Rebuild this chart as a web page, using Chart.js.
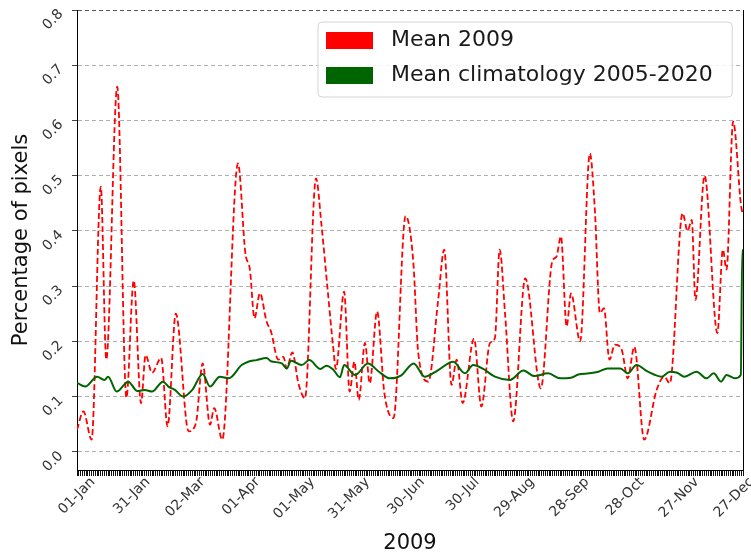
<!DOCTYPE html>
<html><head><meta charset="utf-8">
<script src="https://cdn.jsdelivr.net/npm/chart.js@4.4.0/dist/chart.umd.min.js"></script>
<style>html,body{margin:0;padding:0;background:#fff}#c{display:block}</style>
</head><body>
<canvas id="c" width="751" height="556"></canvas>
<script>
// ---- data ----
const seriesNames = ['Mean 2009', 'Mean climatology 2005-2020'];
const xTickDays = [0,30,60,90,120,150,180,210,240,270,300,330,360];
const xTickLabels = ['01-Jan','31-Jan','02-Mar','01-Apr','01-May','31-May','30-Jun','30-Jul','29-Aug','28-Sep','28-Oct','27-Nov','27-Dec'];
const yTicks = [0.0,0.1,0.2,0.3,0.4,0.5,0.6,0.7,0.8];
const xTitle = '2009';
const yTitle = 'Percentage of pixels';

const redDays = [0,3.5,8,13,16,22,27,31,35,37.5,41,46,49.5,54,61,65,68.7,72.7,75,79.4,88,92,94.5,97,100,103.6,106,110,112.8,114.6,117.7,121,124.6,130.6,133.7,137,140,141.5,146,149,151.6,154,157.4,160,164,168,173,179.6,183.8,186.5,192,197.4,200.7,204.7,207.5,210.8,217,221,225.7,228.4,231,234,238.4,245,253.5,259.7,262,264.5,267.6,270,275,280.3,283,285.8,288,291,294,297.7,301,304.6,310,316.8,321,324,331,333.7,336,338,343,350,353,355,358.6,363,364];
const redVals = [0.04,0.073,0.022,0.48,0.167,0.661,0.098,0.31,0.088,0.175,0.143,0.17,0.046,0.25,0.037,0.052,0.16,0.049,0.079,0.022,0.522,0.36,0.33,0.242,0.287,0.236,0.218,0.167,0.172,0.151,0.18,0.124,0.097,0.495,0.408,0.293,0.19,0.15,0.29,0.109,0.163,0.094,0.197,0.124,0.254,0.106,0.061,0.427,0.344,0.179,0.127,0.275,0.366,0.121,0.167,0.088,0.205,0.082,0.197,0.206,0.366,0.248,0.055,0.314,0.115,0.344,0.353,0.39,0.227,0.287,0.2,0.54,0.44,0.251,0.26,0.167,0.194,0.185,0.133,0.19,0.022,0.112,0.136,0.124,0.432,0.40,0.42,0.275,0.50,0.215,0.366,0.33,0.598,0.444,0.43];

const greenDays = [0,4.5,11,15,17,21.7,28,33,37,41,47,50,53.5,58,63,68.7,72.7,78,83,90,93.6,98,103.6,106,112,114.6,117,122.8,127,133,136.4,140,143.7,146,152,159,165,171,177,184,190,197,205.6,212,216.5,222,228.4,236.6,244,250,257.5,264,270,274,280,285,290,297,301,305.8,312,319.5,324,328,332,338.6,344,348,352,355,359.6,362.8,363.6,364];
const greenVals = [0.125,0.118,0.136,0.13,0.136,0.109,0.127,0.11,0.112,0.109,0.127,0.118,0.112,0.10,0.112,0.141,0.118,0.136,0.133,0.157,0.163,0.166,0.17,0.164,0.16,0.151,0.165,0.157,0.166,0.15,0.156,0.149,0.135,0.157,0.139,0.16,0.145,0.133,0.138,0.16,0.136,0.147,0.163,0.142,0.157,0.15,0.136,0.13,0.147,0.137,0.142,0.133,0.134,0.14,0.142,0.145,0.151,0.151,0.142,0.157,0.145,0.136,0.145,0.143,0.136,0.145,0.133,0.142,0.127,0.139,0.133,0.139,0.365,0.365];

// daily minor tick positions on the x axis
const dailyTicks = Array.from({length: 365}, (_, i) => i);

const FONT = "'DejaVu Sans', sans-serif";

const legendFrame = {
  id: 'legendFrame',
  afterLayout(chart) {
    const lg = chart.legend;
    if (!lg) return;
    lg.left = 313; lg.top = 16.5;
    lg.right = 751; lg.bottom = lg.top + 200;
    lg.width = lg.right - lg.left; lg.height = 200;
    if (!lg._framed) {
      const orig = lg.draw;
      lg.draw = function(area) {
        const ctx = this.ctx;
        const p = this.options.labels.padding;
        const colW = (this.columnSizes && this.columnSizes[0]) ? this.columnSizes[0].width : 386;
        const x0 = this.left + 5, y0 = this.top + 5.5;
        const x1 = this.left + p + colW + 19.5, y1 = y0 + 75;
        ctx.save();
        ctx.beginPath();
        if (ctx.roundRect) ctx.roundRect(x0, y0, x1 - x0, y1 - y0, 4); else ctx.rect(x0, y0, x1 - x0, y1 - y0);
        ctx.fillStyle = 'rgba(255,255,255,0.85)';
        ctx.fill();
        ctx.strokeStyle = '#d4d4d4';
        ctx.lineWidth = 1;
        ctx.stroke();
        ctx.restore();
        orig.call(this, area);
      };
      lg._framed = true;
    }
  }
};

new Chart(document.getElementById('c'), {
  type: 'line',
  data: {
    datasets: [
      {
        label: seriesNames[0],
        data: redDays.map((d, i) => ({x: d, y: redVals[i]})),
        borderColor: '#ff0000', backgroundColor: '#ff0000',
        borderWidth: 1.8, borderDash: [6, 3],
        pointRadius: 0, tension: 0.4, cubicInterpolationMode: 'monotone',
        order: 2
      },
      {
        label: seriesNames[1],
        data: greenDays.map((d, i) => ({x: d, y: greenVals[i]})),
        borderColor: '#006400', backgroundColor: '#006400',
        borderWidth: 2,
        pointRadius: 0, tension: 0.4, cubicInterpolationMode: 'monotone',
        order: 1
      }
    ]
  },
  options: {
    responsive: false,
    animation: false,
    events: [],
    layout: {padding: {top: 10, left: 0, right: 0, bottom: 0}},
    plugins: {
      tooltip: {enabled: false},
      legend: {
        position: 'chartArea',
        align: 'start',
        labels: {
          font: {family: FONT, size: 22},
          color: '#1a1a1a',
          boxWidth: 47, boxHeight: 17, padding: 13,
          textAlign: 'left',
          sort: (a, b) => a.datasetIndex - b.datasetIndex,
          generateLabels: chart => Chart.defaults.plugins.legend.labels.generateLabels(chart).map(it =>
            Object.assign(it, {text: ' ' + it.text, lineWidth: 0, lineDash: [], strokeStyle: it.fillStyle, textAlign: 'left'}))
        }
      }
    },
    scales: {
      x: {
        type: 'linear', min: 0, max: 364,
        afterBuildTicks: s => { s.ticks = dailyTicks.map(v => ({value: v})); },
        afterFit: s => { s.height = 86; s.paddingLeft = 0; s.paddingRight = 0; },
        ticks: {
          autoSkip: false, minRotation: 45, maxRotation: 45,
          labelOffset: 16, padding: -2,
          color: '#333', font: {family: FONT, size: 14},
          callback: v => { const k = xTickDays.indexOf(v); return k >= 0 ? xTickLabels[k] : ''; }
        },
        grid: {display: true, drawOnChartArea: false, drawTicks: true, tickLength: 6, tickColor: '#111', tickWidth: 1},
        border: {display: true, color: '#000', width: 1},
        title: {display: true, text: xTitle, font: {family: FONT, size: 21}, color: '#111', padding: {top: 0, bottom: 0}}
      },
      y: {
        type: 'linear', position: 'left', min: -0.033, max: 0.8,
        afterBuildTicks: s => { s.ticks = yTicks.map(v => ({value: v})); },
        afterFit: s => { s.width = 77; s.paddingTop = 0; s.paddingBottom = 0; },
        ticks: {
          minRotation: 45, maxRotation: 45, padding: 11, labelOffset: 2,
          color: '#333', font: {family: FONT, size: 14},
          callback: v => Number(v).toFixed(1)
        },
        grid: {
          color: c => (c.tick && Math.abs(c.tick.value - 0.8) < 1e-9) ? '#555' : '#b0b0b0',
          lineWidth: 1, drawTicks: true, tickLength: 5, tickColor: '#444', tickBorderDash: []
        },
        border: {display: true, color: '#000', width: 1, dash: [4, 3]},
        title: {display: true, text: yTitle, font: {family: FONT, size: 21}, color: '#111', padding: {top: 9, bottom: 0}}
      },
      y2: {
        type: 'linear', position: 'right', display: true, min: 0, max: 1,
        afterFit: s => { s.width = 8; s.paddingTop = 0; s.paddingBottom = 0; },
        ticks: {display: false},
        grid: {display: false, drawTicks: false},
        border: {display: true, color: '#000', width: 1}
      }
    }
  },
  plugins: [legendFrame]
});
</script>
</body></html>
